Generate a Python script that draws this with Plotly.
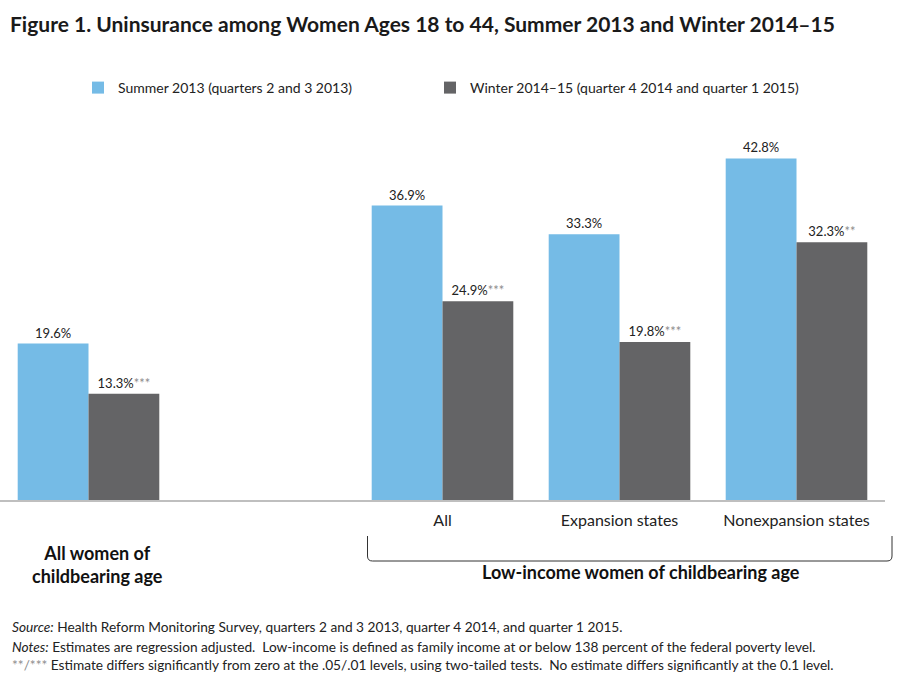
import plotly.graph_objects as go

categories = ["All women of childbearing age", "gap", "All", "Expansion states", "Nonexpansion states"]
tick_labels = ["", "", "All", "Expansion states", "Nonexpansion states"]
summer = [19.6, None, 36.9, 33.3, 42.8]
winter = [13.3, None, 24.9, 19.8, 32.3]
winter_sig = ["***", "", "***", "***", "**"]

FONT = "Lato"
BLUE = "#75BBE6"
GRAY = "#646466"

summer_text = ["" if v is None else f"{v:.1f}%" for v in summer]
winter_text = ["" if v is None else f"{v:.1f}%<span style='color:#8c8c8c'>{s}</span>"
               for v, s in zip(winter, winter_sig)]

fig = go.Figure()
fig.add_trace(go.Bar(
    x=categories, y=summer, name="Summer 2013 (quarters 2 and 3 2013)",
    marker=dict(color=BLUE, line=dict(width=0)),
    text=summer_text, textposition="outside", cliponaxis=False,
    textfont=dict(family=FONT, size=13, color="#222222"),
    legend="legend",
))
fig.add_trace(go.Bar(
    x=categories, y=winter, name="Winter 2014–15 (quarter 4 2014 and quarter 1 2015)",
    marker=dict(color=GRAY, line=dict(width=0)),
    text=winter_text, textposition="outside", cliponaxis=False,
    textfont=dict(family=FONT, size=13, color="#222222"),
    legend="legend2",
))

PW, PH, PB = 885, 399, 500  # plot width, height, bottom pixel

def px(x):
    return x / PW

def py(y):
    return (PB - y) / PH

legend_style = dict(
    orientation="h", xanchor="left", y=py(88), yanchor="middle",
    font=dict(family=FONT, size=14, color="#222222"),
    bgcolor="rgba(0,0,0,0)",
)

fig.update_layout(
    width=900, height=680,
    margin=dict(l=0, r=15, t=101, b=180),
    paper_bgcolor="white", plot_bgcolor="white",
    barmode="group", bargap=0.2, bargroupgap=0,
    font=dict(family=FONT, color="#222222"),
    title=dict(
        text="<b>Figure 1. Uninsurance among Women Ages 18 to 44, Summer 2013 and Winter 2014–15</b>",
        x=10/900, xref="container", xanchor="left",
        y=1-25/680, yref="container", yanchor="middle",
        font=dict(family=FONT, size=21, color="#1a1a1a"),
    ),
    legend=dict(x=px(78), **legend_style),
    legend2=dict(x=px(430), **legend_style),
    xaxis=dict(
        type="category", tickmode="array", tickvals=categories, ticktext=tick_labels,
        showline=True, linecolor="#BFBFBF", linewidth=2, showgrid=False,
        ticks="", ticklabelstandoff=5,
        tickfont=dict(family=FONT, size=16, color="#222222"),
    ),
    yaxis=dict(range=[0, 50], visible=False),
    showlegend=True,
)

# bracket under low-income groups
x1, x2 = px(367.5), px(892)
yt, yb = py(536), py(561)
rx, ry = 5/PW, 5/PH
fig.add_shape(type="path", xref="paper", yref="paper",
              path=f"M {x1},{yt} L {x1},{yb+ry} Q {x1},{yb} {x1+rx},{yb} L {x2-rx},{yb} Q {x2},{yb} {x2},{yb+ry} L {x2},{yt}",
              line=dict(color="#333333", width=1))

fig.add_annotation(text="<b>Low-income women of childbearing age</b>", xref="paper", yref="paper",
                   x=px(641), y=py(572), showarrow=False, xanchor="center", yanchor="middle",
                   font=dict(family=FONT, size=18, color="#111111"))
fig.add_annotation(text="<b>All women of<br>childbearing age</b>", xref="paper", yref="paper",
                   x=px(97), y=py(564), showarrow=False, xanchor="center", yanchor="middle",
                   font=dict(family=FONT, size=18, color="#111111"))

notes = [
    "<i>Source:</i> Health Reform Monitoring Survey, quarters 2 and 3 2013, quarter 4 2014, and quarter 1 2015.",
    "<i>Notes:</i> Estimates are regression adjusted.  Low-income is defined as family income at or below 138 percent of the federal poverty level.",
    "<span style='color:#8c8c8c'>**/***</span> Estimate differs significantly from zero at the .05/.01 levels, using two-tailed tests.  No estimate differs significantly at the 0.1 level.",
]
ys = [626, 646, 664]
for t, yy in zip(notes, ys):
    fig.add_annotation(text=t, xref="paper", yref="paper", x=px(10), y=py(yy),
                       showarrow=False, xanchor="left", yanchor="middle",
                       font=dict(family=FONT, size=13.7, color="#222222"))

fig.write_html("out.html", config={"displayModeBar": False},
               post_script="document.body.style.margin='0';")
